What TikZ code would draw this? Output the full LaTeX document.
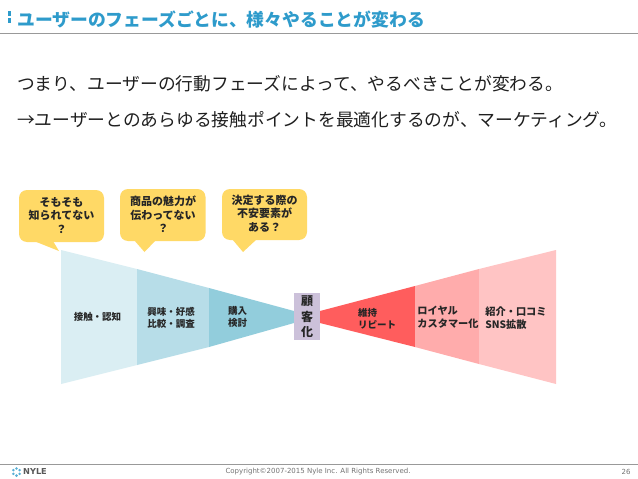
\documentclass[tikz,border=0pt]{standalone}
\usepackage{fontspec}
\newfontfamily\cjk{Noto Sans CJK JP}
\setmainfont{DejaVu Sans}
\definecolor{titleblue}{HTML}{2E9BCB}
\definecolor{bubble}{HTML}{FFD966}
\definecolor{bluea}{HTML}{DAEEF3}
\definecolor{blueb}{HTML}{B7DDE8}
\definecolor{bluec}{HTML}{92CDDC}
\definecolor{reda}{HTML}{FF5D5D}
\definecolor{redb}{HTML}{FFACAC}
\definecolor{redc}{HTML}{FFC4C4}
\definecolor{purple}{HTML}{CCC1DA}
\tikzset{
  bubblebox/.style={fill=bubble,rounded corners=8pt},
  lbl/.style={font=\cjk\fontsize{9.5}{12.5}\selectfont\bfseries,text=black!85,align=left,inner sep=0},
  lblb/.style={lbl,font=\cjk\fontsize{10.2}{12.5}\selectfont\bfseries},
  bubtxt/.style={font=\cjk\fontsize{11}{13.3}\selectfont\bfseries,text=black!85,align=center,inner sep=0},
  body/.style={font=\cjk\fontsize{17.75}{20}\selectfont,text=black!88,anchor=west,inner sep=0},
  rule/.style={draw=black!40,line width=0.8pt},
}
\begin{document}
\begin{tikzpicture}[x=1pt,y=-1pt]
\useasboundingbox (0,0) rectangle (638,479);
\fill[white] (0,0) rectangle (638,479);
% title
\fill[titleblue] (8,11) rectangle (11,15.5);
\fill[titleblue] (8,17.5) rectangle (11,23);
\node[anchor=west,inner sep=0,text=titleblue,font=\cjk\fontsize{17.8}{20}\selectfont\bfseries] (title) at (17,20) {ユーザーのフェーズごとに、様々やることが変わる};
\coordinate (ruleL) at (0,33);\coordinate (ruleR) at (638,33);
\draw[rule] (ruleL) -- (ruleR);
\node[body] (l1) at (17,83.5) {つまり、ユーザーの行動フェーズによって、やるべきことが変わる。};
\node[body] (l2) at (17,119.5) {→ユーザーとのあらゆる接触ポイントを最適化するのが、マーケティング。};
% bubbles
\fill[bubblebox] (19,190) rectangle (104,242);
\fill[bubble] (34,241) -- (59,251) -- (53,241) -- cycle;
\fill[bubblebox] (120,189) rectangle (205.5,241);
\fill[bubble] (134,240) -- (144.5,252) -- (156,240) -- cycle;
\fill[bubblebox] (222,189) rectangle (307,240);
\fill[bubble] (232,239) -- (243,252) -- (257,239) -- cycle;
\node[bubtxt] (b1) at (61.5,215.5) {そもそも\\知られてない\\？};
\node[bubtxt] (b2) at (163,214.5) {商品の魅力が\\伝わってない\\？};
\node[bubtxt] (b3) at (264.5,213.5) {決定する際の\\不安要素が\\ある？};
% funnels
\fill[bluea] (61,250) -- (137,269) -- (137,365) -- (61,384) -- cycle;
\fill[blueb] (137,269) -- (209,288) -- (209,347) -- (137,365) -- cycle;
\fill[bluec] (209,288) -- (294,311) -- (294,323) -- (209,347) -- cycle;
\fill[reda] (320,311) -- (415,286) -- (415,347) -- (320,323) -- cycle;
\fill[redb] (415,286) -- (479,269) -- (479,364) -- (415,347) -- cycle;
\fill[redc] (479,269) -- (556,250) -- (556,384) -- (479,364) -- cycle;
\node[fill=purple,minimum width=26pt,minimum height=47pt,inner sep=0,font=\cjk\fontsize{12}{15}\selectfont\bfseries,text=black!85,align=center] (cust) at (307,316.5) {\raisebox{0.6pt}{顧}\\客\\化};
\node[lbl] (f1) at (97.5,317) {接触・認知};
\node[lbl] (f2) at (171,318) {興味・好感\\比較・調査};
\node[lbl] (f3) at (237.5,317) {購入\\検討};
\node[lbl] (f4) at (377,318.5) {維持\\リピート};
\node[lblb] (f5) at (448,317) {ロイヤル\\カスタマー化};
\node[lblb] (f6) at (516,318) {紹介・口コミ\\SNS拡散};
% footer
\coordinate (footL) at (0,464);\coordinate (footR) at (638,464);
\draw[rule] (footL) -- (footR);
\node[inner sep=0,text=black!55,font=\fontsize{7}{8}\selectfont] (copy) at (318,471.7) {Copyright©2007-2015 Nyle Inc. All Rights Reserved.};
\node[inner sep=0,text=black!55,font=\fontsize{7}{8}\selectfont] (pg) at (626,471.7) {26};
\node[inner sep=0,anchor=west,text=black!65,font=\fontsize{8.2}{9}\selectfont\bfseries] (nyle) at (23,472) {NYLE};
\foreach \a in {0,60,...,300}{\fill[titleblue!80] (16.5,472)++(\a+30:3.6) circle (1.4);}
\end{tikzpicture}
\end{document}
